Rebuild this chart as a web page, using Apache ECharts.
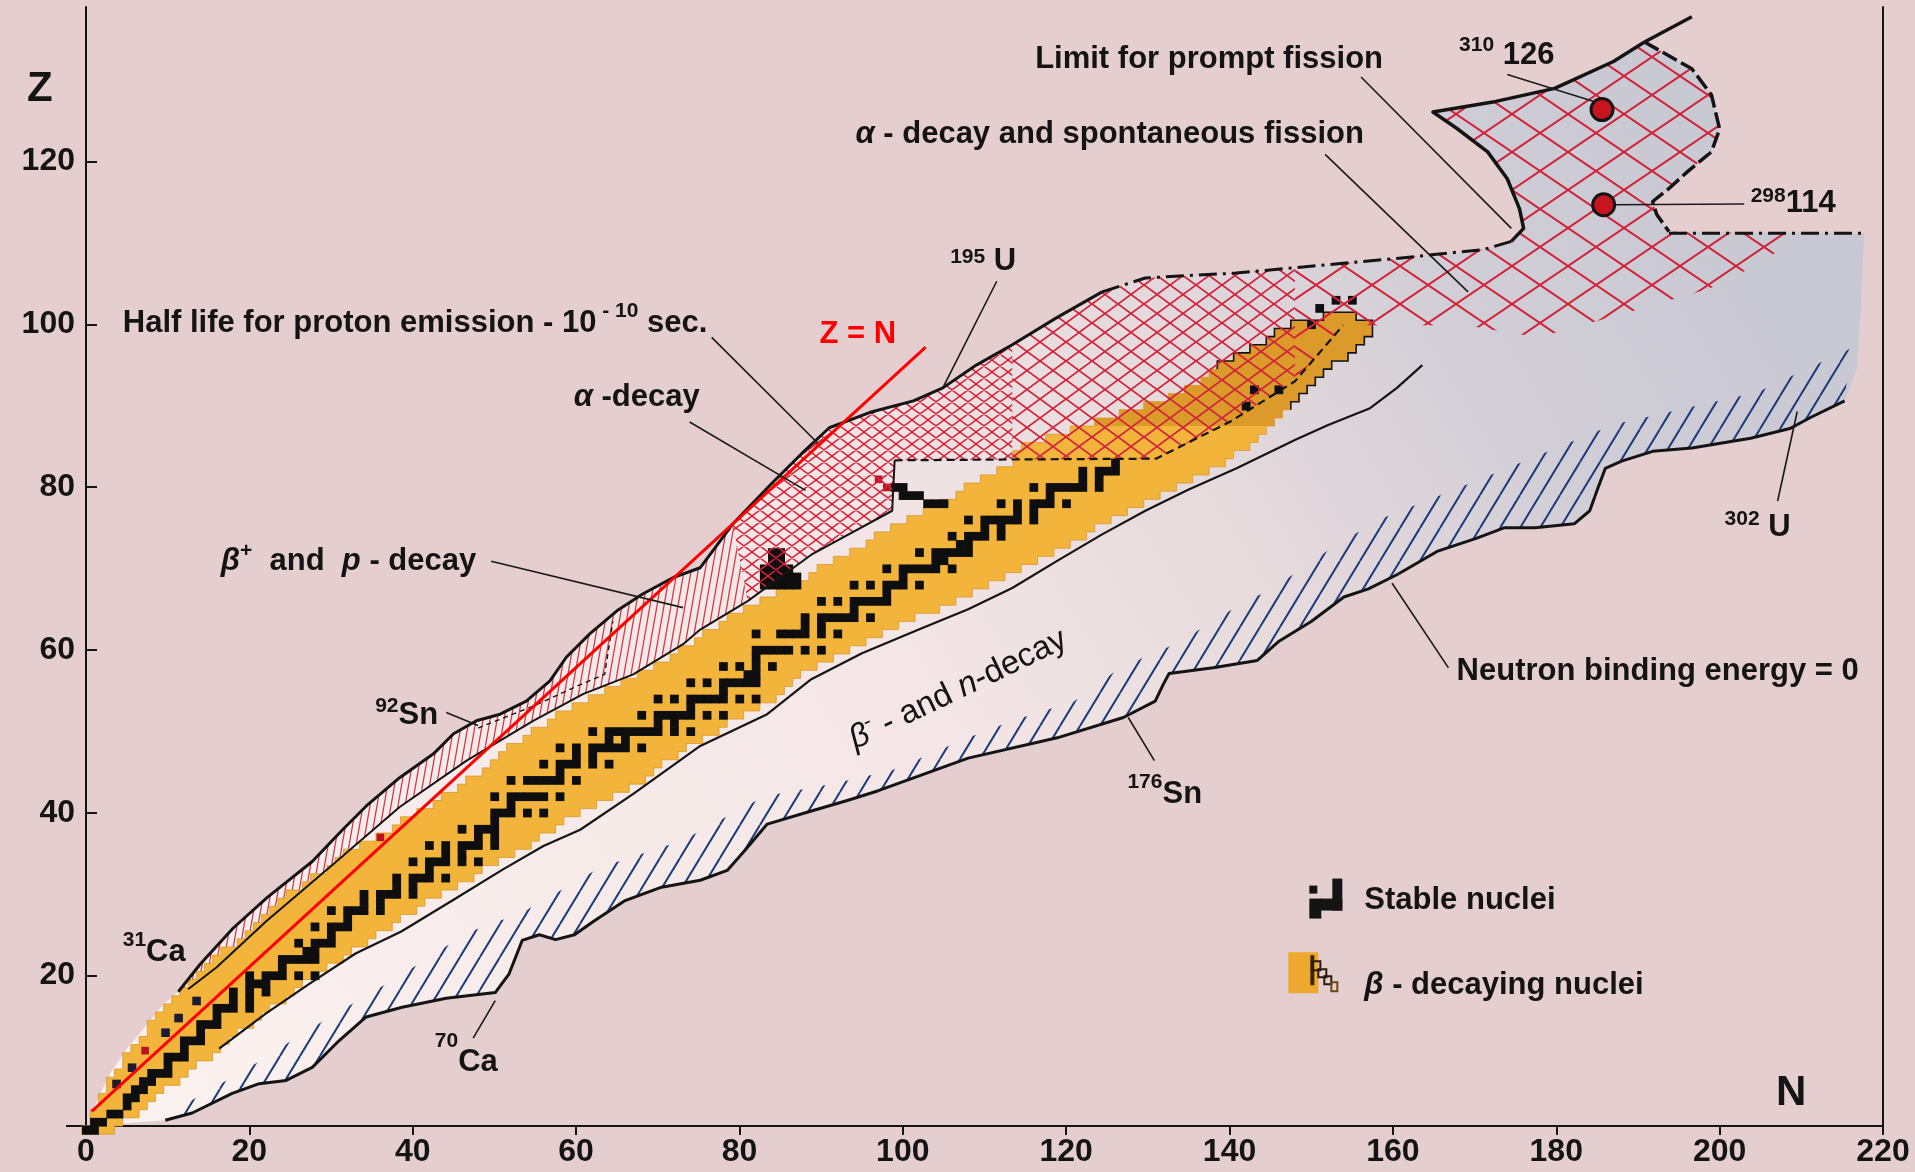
<!DOCTYPE html>
<html>
<head>
<meta charset="utf-8">
<title>Chart of nuclides</title>
<script src="https://cdn.jsdelivr.net/npm/echarts@6.0.0/dist/echarts.min.js"></script>
<style>
  html, body { margin: 0; padding: 0; background: #e5ced0; }
  #chart { width: 1915px; height: 1172px; }
</style>
</head>
<body>
<div id="chart"></div>
<script>
// ---- data, all in (N, Z) ----
const zTicks = [20, 40, 60, 80, 100, 120];

// upper edge of known region (proton side)
const protonDrip = [[11.3,18],[14,21.4],[18,25.8],[22.2,29.6],[27.7,34],[31.5,38],[34.5,41],[38.4,44.3],[42.5,47.2],[45,49.7],[47.8,51.3],[50.7,52.1],[53.9,53.7],[56.8,56.2],[58.8,59.1],[61.7,62],[65,64.8],[68.2,66.9],[71.9,68.9],[75.2,70.1],[79.2,75.5],[84,80.5],[88,84.5],[91,87.3],[96,89.2],[101.3,90.6],[104.9,92.2],[109,95],[113.4,97.5],[118.8,100.8],[124.4,104]];
const protonDashDot = [[124.4,104],[129.7,105.7],[135,106],[140.8,106.3],[151.7,107.3],[160.4,108.1],[171.1,109.2],[174.5,110.2]];
const islandLeft = [[174.5,110.2],[176,111.8],[175.5,114.2],[174,117.9],[171.6,121.2],[167.8,124.1],[164.9,126.1],[172.6,127.4],[179.8,129],[187,132.3],[190.8,134.7]];
const islandTail = [[190.8,134.7],[196.6,137.8]];
const islandRight = [[190.8,134.7],[196.6,131.4],[199,128.2],[200,124],[199,121.2],[196.1,118.8],[193.8,116.7],[191.8,115.1],[192.3,113.5],[193.8,111.4]];
const shelf = [[193.8,111.2],[217.7,111.2]];
const rightEdge = [[217.7,111.2],[217.3,102],[216.8,94.6],[215.3,90.6]];
const lowCap = [[1.5,1.6],[0.5,2.5],[1.5,5],[3,8],[5,11],[7.5,14],[9.5,16.5]];

// neutron drip line (Neutron binding energy = 0)
const neutronDrip = [[9.7,2.2],[13,3.1],[17.9,5.5],[21.2,6.7],[24.5,7.1],[27.7,8.7],[31,12],[34.3,14.9],[38.7,16.1],[44.1,17.2],[50.1,17.9],[51.8,20.2],[53.4,24.3],[55.5,25],[57.5,24.4],[59.8,25],[62.2,26.7],[66,29.2],[70.3,30.8],[75.2,31.7],[78.5,32.9],[80.6,35.3],[83.4,38.6],[88.8,40.2],[93.2,41.5],[97,42.7],[108,46.7],[118.9,49.2],[127,51.7],[130.9,53.7],[131.9,55.8],[132.6,57.1],[138,57.8],[143.4,58.7],[146.1,61.1],[150,63.5],[154,66.5],[157,67.5],[160.6,69.3],[165.4,72.1],[170.2,73.7],[173.6,75],[177.4,75],[182.2,75.5],[184.1,77.1],[185.1,79.9],[186,82.3],[188,83.2],[191.8,84.4],[196.6,84.8],[203.8,86],[208.6,87.2],[211,88.5],[215.3,90.6]];
const blueHatchTop = [[10,2.6],[13,4.7],[20,8.7],[27.7,13.6],[38.5,20],[46.6,25.2],[50,26.5],[53,27.5],[63,33.3],[73.1,36.6],[83,42],[91.6,43.6],[98.7,45.2],[108,49.2],[113.4,51.3],[121,53.7],[126.6,57.8],[134.2,61.1],[138.6,64],[146.1,68.1],[153.2,73],[158.8,76.2],[171,81.1],[187,87.7],[204.7,91.7],[211,94.7],[216,97]];

// line just below the beta-decaying band
const lineBelowOrange = [[16.3,11],[22,15.3],[27.7,19.2],[33,22.7],[38.6,25.4],[45,29.3],[51,33],[56,35.9],[60.5,37.9],[67,42.3],[75.2,48.2],[83.4,52.1],[88.8,56.4],[95,59.6],[102.4,62.7],[108,65],[113.4,67.6],[119,71],[124.4,74.2],[129.7,77.1],[135,79.7],[140.8,82.3],[148,85.8],[152,87.6],[157.2,89.7],[160.5,92.2],[163.6,95]];

// lower edge of the beta+ / p band and of the alpha region
const lowerOutline = [[12.5,18.3],[16,21],[22.1,26.7],[30.3,33.7],[38.4,40.7],[46.6,46.4],[54.8,51.3],[60.9,54.6],[67,57],[73.1,60.7],[75.2,62.5],[81,66],[88.8,71.7],[98.7,77.1],[99,83.3]];
const alphaDashed = [[99,83.3],[113.4,83.4],[131,83.5],[140,88],[148,93],[153.9,99.9]];
const protonHalfLife = [[48,50.4],[55,53.2],[60,55.5],[63.5,57],[64.5,63.5]];

const alphaFine = [[79.2,75.5],[84,80.5],[88,84.5],[91,87.3],[96,89.2],[101.3,90.6],[104.9,92.2],[109,95],[113.4,97.5],[113.4,83.4],[99,83.3],[98.7,77.1],[88.8,71.7],[81,66]];
const alphaMid = [[113.4,97.5],[118.8,100.8],[124.4,104],[129.7,105.7],[135,106],[140.8,106.3],[148,107],[148,93],[140,88],[131,83.5],[113.4,83.4]];
const alphaCoarseLower = [[209,111.2],[209.2,110.4],[204.7,107.4],[198.8,104.4],[191.3,102.2],[177.8,98.4],[168.9,99.9],[153.9,99.9],[148,93]];

const zEqualsN = [[0.7,3.3],[102.8,97.2]];

// beta-decaying nuclei: N range per Z, Z = 1 .. 101
const orangeFirstZ = 1;
const orangeLo = [0,1,1,2,2,3,3,4,5,5, 6,7,8,8,9,10,11,12,13,14, 15,16,17,19,20,21,22,23,24,25, 27,28,30,31,32,34,36,38,39,41, 43,44,46,47,49,50,51,52,54,55, 57,58,60,62,64,66,68,70,72,73, 75,76,78,79,81,83,85,87,89,90, 92,94,96,97,99,101,103,105,107,108, 110,112,114,114,115,118,121,124,127,130, 133,135,137,138,139,141,143,145,146,148, 152];
const orangeHi = [3,4,6,7,8,9,11,12,13,15, 16,17,18,20,21,22,24,25,26,28, 29,31,32,34,35,37,38,40,41,43, 45,47,48,50,52,54,55,57,58,60, 62,64,66,68,69,70,72,73,75,77, 78,80,82,84,85,86,87,89,91,93, 95,97,99,101,104,106,108,110,112,114, 116,118,120,122,123,125,127,129,131,133, 135,137,139,140,142,143,144,145,146,147, 148,149,150,151,152,154,155,156,157,157, 155];

// stable nuclei: [Z, [N...]]
const stable = [
  [1,[0,1]],[2,[1,2]],[3,[3,4]],[4,[5]],[5,[5,6]],[6,[6,7]],[7,[7,8]],[8,[8,9,10]],[9,[10]],[10,[10,11,12]],
  [11,[12]],[12,[12,13,14]],[13,[14]],[14,[14,15,16]],[15,[16]],[16,[16,17,18,20]],[17,[18,20]],[18,[18,20,22]],[19,[20,21,22]],[20,[20,22,23,24,26,28]],
  [21,[24]],[22,[24,25,26,27,28]],[23,[27,28]],[24,[26,28,29,30]],[25,[30]],[26,[28,30,31,32]],[27,[32]],[28,[30,32,33,34,36]],[29,[34,36]],[30,[34,36,37,38,40]],
  [31,[38,40]],[32,[38,40,41,42,44]],[33,[42]],[34,[40,42,43,44,46,48]],[35,[44,46]],[36,[42,44,46,47,48,50]],[37,[48,50]],[38,[46,48,49,50]],[39,[50]],[40,[50,51,52,54,56]],
  [41,[52]],[42,[50,52,53,54,55,56,58]],[44,[52,54,55,56,57,58,60]],[45,[58]],[46,[56,58,59,60,62,64]],[47,[60,62]],[48,[58,60,62,63,64,65,66,68]],[49,[64,66]],[50,[62,64,65,66,67,68,69,70,72,74]],
  [51,[70,72]],[52,[68,70,71,72,73,74,76,78]],[53,[74]],[54,[70,72,74,75,76,77,78,80,82]],[55,[78]],[56,[74,76,78,79,80,81,82]],[57,[81,82]],[58,[78,80,82,84]],[59,[82]],[60,[82,83,84,85,86,88,90]],
  [62,[82,85,86,87,88,90,92]],[63,[88,90]],[64,[88,90,91,92,93,94,96]],[65,[94]],[66,[90,92,94,95,96,97,98]],[67,[98]],[68,[94,96,98,99,100,102]],[69,[100]],[70,[98,100,101,102,103,104,106]],
  [71,[104,105]],[72,[102,104,105,106,107,108]],[73,[107,108]],[74,[106,108,109,110,112]],[75,[110,112]],[76,[108,110,111,112,113,114,116]],[77,[114,116]],[78,[112,114,116,117,118,120]],[79,[118]],[80,[116,118,119,120,121,122,124]],
  [81,[122,124]],[82,[122,124,125,126]],[83,[126]],[90,[142]],[92,[143,146]]
];
// other black cells and marks seen on the chart
const blackCells = [[84,72],[85,72],[84,71],[85,71],[83,70],[84,70],[85,70],[86,70],[83,69],[84,69],[85,69],[86,69],[87,69],[83,68],[84,68],[85,68],[86,68],[87,68],
  [99,80],[100,80],[100,79],[101,79],[102,79],[103,78],[104,78],[105,78],[151,102],[153,103],[155,103],[150,100]];
const redCells = [[97,81],[98,80],[7.2,10.8],[36,37]];
const darkDots = [[3.7,6.7],[5.6,8.7],[9.7,13],[11.3,14.8],[13.5,16.9]];
const superHeavy = [[185.6,126.4],[185.8,114.7]];

// ---- annotation texts (anchor = left/middle of first run, in N,Z) ----
const notes = [
  { at: [116.2,132.6], runs: [['Limit for prompt fission']] },
  { at: [94.2,123.3], runs: [['α','i'],[' - decay and spontaneous fission']] },
  { at: [4.5,100.1], runs: [['Half life for proton emission - 10'],[' - 10','s'],[' sec.']], up: 12 },
  { at: [89.8,98.8], runs: [['Z = N']], color: '#ff0000' },
  { at: [59.7,91.0], runs: [['α','i'],[' -decay']] },
  { at: [16.5,70.9], runs: [['β','i'],['+','s'],['  and  '],['p','i'],[' - decay']], up: 10 },
  { at: [35.4,51.9], runs: [['92','s'],['Sn']], up: 10 },
  { at: [4.5,22.8], runs: [['31','s'],['Ca']], up: 12 },
  { at: [42.7,9.3], runs: [['70','s'],['Ca']], up: 21 },
  { at: [105.8,107.7], runs: [['195','s'],[' U']], up: 5 },
  { at: [168.1,133.1], runs: [['310','s'],[' 126']], up: 10 },
  { at: [203.8,114.8], runs: [['298','s'],['114']], up: 8 },
  { at: [200.6,75.1], runs: [['302','s'],[' U']], up: 8 },
  { at: [127.5,42.3], runs: [['176','s'],['Sn']], up: 12 },
  { at: [167.8,57.4], runs: [['Neutron binding energy = 0']] },
  { at: [93.7,48.8], runs: [['β','i'],['-','s'],[' - and '],['n','i'],['-decay']], up: 10, rot: 0.45, weight: 'normal', size: 33 },
  { at: [156.5,29.2], runs: [['Stable nuclei']] },
  { at: [156.5,18.8], runs: [['β','i'],[' - decaying nuclei']] }
];
const leaders = [
  [[156.1,130.4],[174.5,111.8]], [[151.7,120.9],[169.2,104]], [[174,130.7],[184.6,127.4]],
  [[187,114.7],[203,114.8]], [[111.5,105.3],[104.9,92.2]], [[76.6,98.4],[89.6,85.4]],
  [[73.9,88],[88.1,79.6]], [[49.6,70.9],[73.1,65.2]], [[44.1,52.3],[48,50.7]],
  [[47.4,12.3],[50.1,16.9]], [[130.8,46.4],[127.6,51.7]], [[166.8,57.8],[159.9,68.2]],
  [[207.1,78.3],[209.5,89.3]]
];

// ---- helpers ----
const FONT = '"Liberation Sans", Arial, Helvetica, sans-serif';
const INK = '#141414';

function tile(w, h, color, lw, cross) {
  const c = document.createElement('canvas');
  c.width = w; c.height = h;
  const g = c.getContext('2d');
  g.strokeStyle = color; g.lineWidth = lw;
  g.beginPath();
  for (let k = -1; k <= 1; k++) {
    g.moveTo(k * w, h); g.lineTo(k * w + w, 0);
    if (cross) { g.moveTo(k * w, 0); g.lineTo(k * w + w, h); }
  }
  g.stroke();
  return { image: c, repeat: 'repeat' };
}

function staircase(from, to) {
  const right = [], left = [];
  for (let i = from; i <= to; i++) {
    const z = orangeFirstZ + i;
    right.push([orangeHi[i] + 0.5, z - 0.5], [orangeHi[i] + 0.5, z + 0.5]);
    left.push([orangeLo[i] - 0.5, z - 0.5], [orangeLo[i] - 0.5, z + 0.5]);
  }
  return right.concat(left.reverse());
}

let zIdx = 2;
function area(pts, style) {
  return {
    type: 'custom', coordinateSystem: 'cartesian2d', silent: true, clip: false, z: zIdx++,
    data: [[100, 50]],
    renderItem: (params, api) => ({
      type: 'polygon',
      shape: { points: pts.map(p => api.coord(p)) },
      style: style
    })
  };
}
function line(pts, style) {
  return {
    type: 'custom', coordinateSystem: 'cartesian2d', silent: true, clip: false, z: zIdx++,
    data: [[100, 50]],
    renderItem: (params, api) => ({
      type: 'polyline',
      shape: { points: pts.map(p => api.coord(p)) },
      style: Object.assign({ fill: 'none', stroke: INK, lineWidth: 2.5, lineJoin: 'round' }, style)
    })
  };
}
function cells(list, color, size) {
  return {
    type: 'custom', coordinateSystem: 'cartesian2d', silent: true, clip: false, z: zIdx++,
    data: list,
    renderItem: (params, api) => {
      const c = api.coord([api.value(0), api.value(1)]);
      const s = size || api.size([1, 1]);
      return { type: 'rect', shape: { x: c[0] - s[0] / 2, y: c[1] - s[1] / 2, width: s[0] + 0.6, height: s[1] + 0.6 }, style: { fill: color } };
    }
  };
}

const measure = document.createElement('canvas').getContext('2d');

// ---- build shapes from the arrays ----
const envelope = lowCap.concat(protonDrip, protonDashDot.slice(1), islandLeft.slice(1), islandRight.slice(1), shelf.slice(1), rightEdge.slice(1), neutronDrip.slice().reverse());
const betaPlusBand = protonDrip.slice(0, protonDrip.findIndex(p => p[0] === 79.2) + 1).concat(lowerOutline.slice(0, 12).reverse());
const blueBand = neutronDrip.concat(blueHatchTop.slice().reverse());
const alphaCoarse = [[148,107]].concat(protonDashDot.filter(p => p[0] > 148), islandLeft.slice(1), islandRight.slice(1), alphaCoarseLower);

const stableCells = [];
stable.forEach(r => r[1].forEach(n => stableCells.push([n, r[0]])));

const orangeAll = staircase(0, orangeLo.length - 1);
const orangeTop = staircase(87, orangeLo.length - 1);
const orangeTopEdge = (() => {
  const pts = [];
  for (let i = 89; i < orangeLo.length; i++) {
    const z = orangeFirstZ + i;
    pts.push([orangeHi[i] + 0.5, z - 0.5], [orangeHi[i] + 0.5, z + 0.5]);
  }
  for (let i = orangeLo.length - 1; i >= 94; i--) {
    const z = orangeFirstZ + i;
    pts.push([orangeLo[i] - 0.5, z + 0.5], [orangeLo[i] - 0.5, z - 0.5]);
  }
  return pts;
})();

const envFill = new echarts.graphic.LinearGradient(0, 1, 1, 0, [
  { offset: 0, color: '#fbf2f0' },
  { offset: 0.45, color: '#f4e6e6' },
  { offset: 0.62, color: '#e6dadd' },
  { offset: 0.78, color: '#d0cdd6' },
  { offset: 1, color: '#c4c6d1' }
]);

const series = [
  area(envelope, { fill: envFill }),
  area(blueBand, { fill: tile(20, 33, '#1d3c78', 2, false) }),
  area(betaPlusBand, { fill: tile(7, 40, '#d63a4a', 1.3, false) }),
  area(orangeAll, { fill: '#f2b43b', stroke: '#d9982a', lineWidth: 0.8 }),
  area(orangeTop, { fill: '#dc9a2a' }),
  line(orangeTopEdge, { lineWidth: 1.6, lineJoin: 'miter' }),
  cells(stableCells, '#0e0e0e'),
  cells(blackCells, '#0e0e0e'),
  cells(redCells, '#b8141e', [7, 7]),
  cells(darkDots, '#1c1c30', [8, 8]),
  area(alphaFine, { fill: tile(16, 12, '#d0243a', 1.5, true) }),
  area(alphaMid, { fill: tile(26, 19, '#d0243a', 1.8, true) }),
  area(alphaCoarse, { fill: tile(56, 38, '#d0243a', 2, true) }),
  line(protonDrip, { lineWidth: 3 }),
  line(protonDashDot, { lineWidth: 3, lineDash: [18, 6, 3, 6] }),
  line(islandLeft, { lineWidth: 3.5 }),
  line(islandTail, { lineWidth: 3.5 }),
  line(islandRight, { lineWidth: 3.5, lineDash: [16, 5] }),
  line(shelf, { lineWidth: 3, lineDash: [18, 6, 3, 6] }),
  line(neutronDrip, { lineWidth: 3 }),
  line(lineBelowOrange, { lineWidth: 2.2 }),
  line(lowerOutline, { lineWidth: 2 }),
  line(alphaDashed, { lineWidth: 2.2, lineDash: [8, 5] }),
  line(protonHalfLife, { lineWidth: 1.4, lineDash: [5, 4] }),
  line(zEqualsN, { stroke: '#ff0000', lineWidth: 3 }),
  {
    type: 'custom', coordinateSystem: 'cartesian2d', silent: true, clip: false, z: zIdx++,
    data: superHeavy,
    renderItem: (params, api) => {
      const c = api.coord([api.value(0), api.value(1)]);
      return { type: 'circle', shape: { cx: c[0], cy: c[1], r: 11 }, style: { fill: '#c8141e', stroke: INK, lineWidth: 3 } };
    }
  },
  {
    type: 'custom', coordinateSystem: 'cartesian2d', silent: true, clip: false, z: zIdx++,
    data: leaders.map(l => l[0]),
    renderItem: (params, api) => {
      const l = leaders[params.dataIndex];
      return { type: 'polyline', shape: { points: l.map(p => api.coord(p)) }, style: { fill: 'none', stroke: '#1a1a1a', lineWidth: 1.6 } };
    }
  },
  {
    type: 'custom', coordinateSystem: 'cartesian2d', silent: true, clip: false, z: zIdx++,
    data: notes.map(n => n.at),
    renderItem: (params, api) => {
      const n = notes[params.dataIndex];
      const p = api.coord(n.at);
      const size = n.size || 31, supSize = Math.round(size * 0.68);
      const weight = n.weight || 'bold';
      const kids = [];
      let x = 0;
      n.runs.forEach(r => {
        const flags = r[1] || '';
        const sup = flags.indexOf('s') >= 0, ital = flags.indexOf('i') >= 0;
        const fs = sup ? supSize : size;
        const fstyle = ital ? 'italic' : 'normal';
        measure.font = fstyle + ' ' + weight + ' ' + fs + 'px ' + FONT;
        kids.push({
          type: 'text', x: x, y: sup ? -(n.up || 10) : 0,
          style: { text: r[0], fill: n.color || INK, fontSize: fs, fontWeight: weight, fontStyle: fstyle, fontFamily: FONT, align: 'left', verticalAlign: 'middle' }
        });
        x += measure.measureText(r[0]).width;
      });
      return { type: 'group', x: p[0], y: p[1], rotation: n.rot || 0, children: kids };
    }
  },
  {
    // legend swatches, drawn next to the two legend texts
    type: 'custom', coordinateSystem: 'cartesian2d', silent: true, clip: false, z: zIdx++,
    data: [notes[16].at, notes[17].at],
    renderItem: (params, api) => {
      const p = api.coord([api.value(0), api.value(1)]);
      const kids = params.dataIndex === 0 ? [
        { type: 'rect', shape: { x: -32, y: -22, width: 10, height: 32 }, style: { fill: INK } },
        { type: 'rect', shape: { x: -55, y: -15, width: 8, height: 8 }, style: { fill: INK } },
        { type: 'rect', shape: { x: -44, y: -2, width: 22, height: 12 }, style: { fill: INK } },
        { type: 'rect', shape: { x: -55, y: -2, width: 12, height: 20 }, style: { fill: INK } }
      ] : [
        { type: 'rect', shape: { x: -76, y: -33, width: 30, height: 41 }, style: { fill: '#eda92e' } },
        { type: 'rect', shape: { x: -54, y: -30, width: 4, height: 30 }, style: { fill: '#3a2410' } },
        { type: 'rect', shape: { x: -52, y: -24, width: 8, height: 9 }, style: { fill: 'none', stroke: '#2a1a0a', lineWidth: 2 } },
        { type: 'rect', shape: { x: -46, y: -16, width: 8, height: 8 }, style: { fill: 'none', stroke: '#2a1a0a', lineWidth: 2 } },
        { type: 'rect', shape: { x: -40, y: -9, width: 7, height: 8 }, style: { fill: 'none', stroke: '#2a1a0a', lineWidth: 2 } },
        { type: 'rect', shape: { x: -33, y: -3, width: 6, height: 9 }, style: { fill: 'none', stroke: '#6a4a10', lineWidth: 2 } }
      ];
      return { type: 'group', x: p[0], y: p[1], children: kids };
    }
  }
];

const chart = echarts.init(document.getElementById('chart'));
chart.setOption({
  backgroundColor: '#e5ced0',
  animation: false,
  grid: { left: 86, right: 32, top: 7, bottom: 46, containLabel: false },
  xAxis: {
    type: 'value', min: 0, max: 220, interval: 20,
    axisLine: { onZero: false, lineStyle: { color: INK, width: 2 } },
    axisTick: { length: 9, lineStyle: { color: INK, width: 2 } },
    axisLabel: { color: INK, fontSize: 32, fontWeight: 'bold', fontFamily: FONT, margin: 10 },
    splitLine: { show: false }
  },
  yAxis: [{
    type: 'value', min: 1.5, max: 139,
    axisLine: { show: true, onZero: false, lineStyle: { color: INK, width: 2 } },
    axisTick: { show: true, inside: true, length: 11, customValues: zTicks, lineStyle: { color: INK, width: 2 } },
    axisLabel: { customValues: zTicks, color: INK, fontSize: 32, fontWeight: 'bold', fontFamily: FONT, margin: 11 },
    splitLine: { show: false }
  }, {
    type: 'value', min: 1.5, max: 139, position: 'right',
    axisLine: { show: true, onZero: false, lineStyle: { color: INK, width: 2 } },
    axisTick: { show: false }, axisLabel: { show: false }, splitLine: { show: false }
  }],
  graphic: [
    { type: 'text', left: 27, top: 68, style: { text: 'Z', fontSize: 42, fontWeight: 'bold', fontFamily: FONT, fill: INK } },
    { type: 'text', left: 1776, top: 1072, style: { text: 'N', fontSize: 42, fontWeight: 'bold', fontFamily: FONT, fill: INK } },
    { type: 'line', shape: { x1: 66, y1: 1126, x2: 86, y2: 1126 }, style: { stroke: INK, lineWidth: 2 } }
  ],
  series: series
});
</script>
</body>
</html>
